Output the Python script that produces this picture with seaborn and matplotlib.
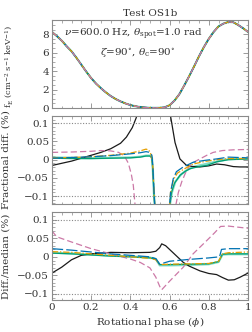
import matplotlib
matplotlib.use("Agg")
import matplotlib.pyplot as plt
import seaborn as sns
import numpy as np
from matplotlib.ticker import MultipleLocator

# --- data ------------------------------------------------------------------
phase_flux = [0, .025, .05, .075, .1, .125, .15, .175, .2, .225, .25, .275, .3, .325, .35,
              .375, .4, .425, .45, .475, .5, .525, .55, .575, .6, .625, .65, .675, .7, .725,
              .75, .775, .8, .825, .85, .875, .9, .925, .95, .975, 1.0]
flux = [8.25, 7.8, 7.3, 6.7, 6.15, 5.45, 4.7, 3.95, 3.25, 2.65, 2.15, 1.7, 1.3, 0.98, 0.72,
        0.5, 0.32, 0.2, 0.11, 0.06, 0.03, 0.02, 0.03, 0.08, 0.3, 0.8, 1.5, 2.45, 3.45, 4.5,
        5.6, 6.6, 7.5, 8.25, 8.85, 9.15, 9.33, 9.3, 9.0, 8.65, 8.25]

series = ["black", "pink", "blue", "orange", "green", "aqua"]
colors = {"black": "#1a1a1a", "pink": "#CC79A7", "blue": "#0072B2",
          "orange": "#E69F00", "green": "#009E73", "aqua": "#7fdcc4"}
dashes = {"black": "-", "pink": (0, (5, 2.5)), "blue": (0, (9, 2.5)),
          "orange": (0, (5, 1.5, 1, 1.5)), "green": "-", "aqua": "-"}
widths = {"black": 0.9, "pink": 0.9, "blue": 0.9, "orange": 0.9, "green": 0.9, "aqua": 1.6}
order = ["aqua", "black", "pink", "green", "orange", "blue"]
order_flux = ["aqua", "black", "green", "blue", "orange", "pink"]

# fractional difference (%) - left and right of the flux minimum
frac_x = {
    "black": [0, .05, .1, .15, .2, .25, .3, .35, .38, .41, .43, .445, np.nan,
              .6, .605, .628, .653, .687, .72, .755, .8, .84, .88, .925, .96, 1.0],
    "pink": [0, .1, .2, .25, .3, .34, .37, .39, .405, .415, .425, np.nan,
             .63, .645, .662, .68, .704, .73, .755, .79, .823, .87, .925, 1.0],
    "blue": [0, .1, .2, .3, .4, .45, .48, .5, .51, .515, .52, .525, np.nan,
             .6, .605, .619, .635, .67, .721, .78, .84, .9, .95, 1.0],
    "orange": [0, .1, .2, .3, .4, .45, .48, .495, .505, .515, .52, .525, np.nan,
               .6, .605, .62, .64, .67, .72, .78, .84, .9, 1.0],
    "green": [0, .1, .2, .3, .4, .45, .48, .5, .51, .515, .52, .525, np.nan,
              .6, .61, .625, .653, .68, .704, .75, .79, .84, .9, 1.0],
    "aqua": [0, .1, .2, .3, .4, .45, .48, .5, .51, .515, .52, .525, np.nan,
             .6, .612, .63, .66, .69, .72, .76, .8, .85, .9, 1.0],
}
frac_y = {
    "black": [-.016, -.010, -.004, .004, .012, .020, .030, .045, .062, .088, .115, .15, np.nan,
              .2, .12, .047, .002, -.016, -.019, -.020, -.017, -.012, -.014, -.019, -.020, -.020],
    "pink": [.020, .021, .023, .025, .024, .020, .010, -.010, -.040, -.070, -.13, np.nan,
             -.13, -.09, -.061, -.038, -.016, -.005, .002, .012, .020, .025, .027, .028],
    "blue": [.004, .006, .008, .011, .016, .019, .022, .020, .012, -.02, -.08, -.13, np.nan,
             -.13, -.09, -.052, -.033, -.020, -.007, -.002, .002, .007, .006, .005],
    "orange": [.005, .006, .008, .012, .018, .024, .029, .026, .015, -.02, -.08, -.13, np.nan,
               -.13, -.09, -.055, -.037, -.027, -.012, -.005, .0, .003, .003],
    "green": [.004, .003, .003, .004, .005, .007, .010, .010, .005, -.03, -.09, -.13, np.nan,
              -.13, -.09, -.065, -.043, -.032, -.025, -.019, -.016, -.006, .0, .002],
    "aqua": [.006, .005, .004, .005, .006, .008, .011, .011, .006, -.03, -.09, -.13, np.nan,
             -.13, -.09, -.060, -.040, -.028, -.020, -.015, -.010, -.004, .001, .003],
}

# difference from median (%)
med_x = {
    "black": [0, .05, .1, .15, .2, .25, .3, .4, .5, .53, .55, .56, .58, .6, .63, .67, .7,
              .755, .8, .84, .87, .9, .93, .96, 1.0],
    "pink": [0, .025, .1, .2, .3, .364, .4, .45, .5, .53, .55, .56, .6, .67, .72, .79,
             .83, .86, .9, .95, 1.0],
    "blue": [0, .1, .2, .3, .4, .5, .53, .55, .6, .7, .8, .855, .865, .9, 1.0],
    "orange": [0, .1, .2, .3, .4, .5, .53, .55, .6, .7, .8, .85, .87, .9, 1.0],
    "green": [0, .1, .2, .3, .4, .5, .53, .55, .6, .7, .8, .85, .87, .9, 1.0],
    "aqua": [0, .1, .2, .3, .4, .5, .53, .55, .6, .7, .8, .85, .87, .9, 1.0],
}
med_y = {
    "black": [-.044, -.028, -.008, .004, .008, .010, .012, .011, .012, .015, .025, .035, .030,
              .020, .005, -.015, -.025, -.038, -.045, -.048, -.056, -.063, -.062, -.055, -.044],
    "pink": [.07, .054, .040, .022, .008, -.001, -.006, -.015, -.030, -.055, -.080, -.089,
             -.066, -.028, .008, .044, .065, .082, .083, .080, .077],
    "blue": [.022, .018, .013, .008, .004, .0, -.005, -.020, -.012, -.007, -.003, .0, .020, .022, .022],
    "orange": [.014, .012, .008, .004, .0, -.004, -.008, -.021, -.020, -.019, -.018, -.012, .008, .011, .013],
    "green": [.010, .008, .005, .002, .0, -.003, -.006, -.021, -.021, -.020, -.019, -.013, .007, .008, .008],
    "aqua": [.011, .009, .006, .003, .001, -.002, -.006, -.023, -.023, -.022, -.020, -.014, .006, .007, .007],
}

# --- style ---------------------------------------------------------------
sns.set_theme(style="ticks")
frame = "#8a8a8a"
fs = 7.5
plt.rcParams.update({
    "font.family": ["DejaVu Serif"],
    "mathtext.fontset": "dejavuserif",
    "font.size": fs,
    "axes.labelsize": fs,
    "axes.titlesize": fs,
    "axes.edgecolor": frame,
    "axes.linewidth": 0.8,
    "xtick.color": frame, "ytick.color": frame,
    "xtick.labelcolor": "#333333", "ytick.labelcolor": "#333333",
    "xtick.direction": "in", "ytick.direction": "in",
    "xtick.top": True, "ytick.right": True,
    "xtick.major.size": 3.5, "ytick.major.size": 3.5,
    "xtick.minor.size": 1.8, "ytick.minor.size": 1.8,
    "xtick.major.width": 0.6, "ytick.major.width": 0.6,
    "xtick.minor.width": 0.5, "ytick.minor.width": 0.5,
    "xtick.minor.visible": True, "ytick.minor.visible": True,
    "xtick.labelsize": fs, "ytick.labelsize": fs,
    "axes.labelcolor": "#333333", "text.color": "#333333",
})

fig, axes = plt.subplots(3, 1, figsize=(2.52, 3.32), dpi=100, sharex=True)
fig.subplots_adjust(left=0.206, right=0.984, top=0.940, bottom=0.096, hspace=0.09)
ax_f, ax_d, ax_m = axes


def style(name):
    return dict(color=colors[name], linestyle=dashes[name], linewidth=widths[name])


for name in order_flux:
    sns.lineplot(x=phase_flux, y=flux, ax=ax_f, sort=False, estimator=None, **style(name))
for name in order:
    sns.lineplot(x=frac_x[name], y=frac_y[name], ax=ax_d, sort=False, estimator=None, **style(name))
    sns.lineplot(x=med_x[name], y=med_y[name], ax=ax_m, sort=False, estimator=None, **style(name))

ax_f.set_ylim(0, 9.55)
ax_f.yaxis.set_major_locator(MultipleLocator(2))
ax_f.yaxis.set_minor_locator(MultipleLocator(0.5))
ax_f.set_title("Test OS1b", pad=3)
ax_f.text(0.415, 0.83, r"$\nu$=600.0 Hz, $\theta_{\rm spot}$=1.0 rad",
          transform=ax_f.transAxes, ha="center", va="center")
ax_f.text(0.435, 0.63, r"$\zeta$=90$^{\circ}$, $\theta_{\rm c}$=90$^{\circ}$",
          transform=ax_f.transAxes, ha="center", va="center")
ax_f.set_ylabel(r"f$_{\rm E}$ (cm$^{-2}$ s$^{-1}$ keV$^{-1}$)", fontsize=6.0)

yt = [-0.1, -0.05, 0, 0.05, 0.1]
ylab = ["\u22120.1", "\u22120.05", "0", "0.05", "0.1"]
for ax in (ax_d, ax_m):
    ax.axhline(0.1, color="#888888", linestyle=(0, (1, 1.5)), linewidth=0.8)
    ax.axhline(-0.1, color="#888888", linestyle=(0, (1, 1.5)), linewidth=0.8)
    ax.set_yticks(yt)
    ax.set_yticklabels(ylab)
    ax.yaxis.set_minor_locator(MultipleLocator(0.01))
ax_d.set_ylim(-0.122, 0.12)
ax_m.set_ylim(-0.117, 0.121)
ax_d.set_ylabel("Fractional diff. (%)")
ax_m.set_ylabel("Diff./median (%)")

ax_m.set_xlim(0, 1)
ax_m.set_xticks([0, 0.2, 0.4, 0.6, 0.8, 1.0])
ax_m.set_xticklabels(["0", "0.2", "0.4", "0.6", "0.8", "1"])
ax_m.xaxis.set_minor_locator(MultipleLocator(0.05))
ax_m.set_xlabel(r"Rotational phase ($\phi$)", labelpad=2)

for ax in axes:
    ax.yaxis.set_label_coords(-0.21, 0.5)
    ax.tick_params(axis="both", which="both", pad=2)
ax_f.yaxis.set_label_coords(-0.19, 0.47)

fig.savefig("out.png", dpi=100)
